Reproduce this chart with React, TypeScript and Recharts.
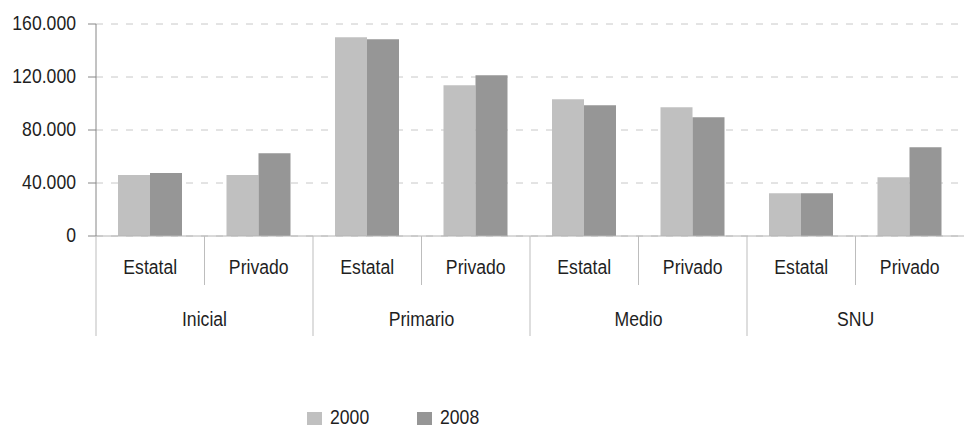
import React from 'react';
import { BarChart, Bar, XAxis, YAxis, CartesianGrid, Legend } from 'recharts';

const groups = ['Inicial', 'Inicial', 'Primario', 'Primario', 'Medio', 'Medio', 'SNU', 'SNU'];
const sectors = ['Estatal', 'Privado', 'Estatal', 'Privado', 'Estatal', 'Privado', 'Estatal', 'Privado'];
const values2000 = [46000, 46000, 150000, 113700, 103200, 97100, 32200, 44300];
const values2008 = [47500, 62500, 148400, 121300, 98600, 89600, 32200, 66900];
const yTicks = [0, 40000, 80000, 120000, 160000];
const seriesNames = ['2000', '2008'];
const seriesColors = ['#c0c0c0', '#969696'];

const data = sectors.map((s, i) => ({
  key: `${groups[i]}-${s}-${i}`,
  sector: s,
  group: groups[i],
  y2000: values2000[i],
  y2008: values2008[i],
}));

const FONT = "'Liberation Sans', Arial, sans-serif";
const FS = 21;
const SX = 0.84;
const TXT = '#1f1f1f';
const CHART_W = 969;
const CHART_H = 428;
const MARGIN = { top: 24, right: 5, left: 0, bottom: 0 };
const Y_W = 96;

const fmt = (v: number) => String(v).replace(/\B(?=(\d{3})+(?!\d))/g, '.');

const NarrowText = ({ x, y, anchor, children }: any) => (
  <g transform={`translate(${x},${y})`}>
    <text transform={`scale(${SX},1)`} x={0} y={0} textAnchor={anchor} fontFamily={FONT} fontSize={FS} fill={TXT}>
      {children}
    </text>
  </g>
);

const XTick = (props: any) => {
  const { x, y, payload } = props;
  const idx: number = payload.index;
  const half = payload.offset ?? (CHART_W - Y_W - MARGIN.right) / data.length / 2;
  const row = data[idx];
  const isGroupStart = idx === 0 || data[idx - 1].group !== row.group;
  const lineLen = isGroupStart ? 100 : 49;
  let groupLabel = null;
  if (isGroupStart) {
    let n = 1;
    while (idx + n < data.length && data[idx + n].group === row.group) n++;
    const cx = x - half + n * half;
    groupLabel = (
      <NarrowText x={cx} y={y + 90} anchor="middle">
        {row.group}
      </NarrowText>
    );
  }
  return (
    <g>
      <line x1={x - half} x2={x - half} y1={y} y2={y + lineLen} stroke="#bdbdbd" strokeWidth={1} />
      <NarrowText x={x} y={y + 38} anchor="middle">
        {row.sector}
      </NarrowText>
      {groupLabel}
    </g>
  );
};

const YTick = (props: any) => {
  const { x, y, payload } = props;
  return (
    <NarrowText x={x} y={y + 5.5} anchor="end">
      {fmt(payload.value)}
    </NarrowText>
  );
};

const LegendContent = (props: any) => {
  const items = props.payload || [];
  return (
    <svg width={200} height={20} style={{ display: 'block', overflow: 'visible' }}>
      {items.map((it: any, i: number) => (
        <g key={i} transform={`translate(${i * 110},0)`}>
          <rect x={0} y={6} width={15} height={13} fill={it.color} />
          <NarrowText x={23} y={18} anchor="start">
            {it.value}
          </NarrowText>
        </g>
      ))}
    </svg>
  );
};

export default function App() {
  return (
    <div style={{ position: 'absolute', left: 0, top: 0, width: CHART_W, height: CHART_H, background: '#fff' }}>
      <BarChart width={CHART_W} height={CHART_H} data={data} margin={MARGIN} barGap={0} barCategoryGap={22}>
        <CartesianGrid horizontal vertical={false} stroke="#c8c8c8" strokeDasharray="7 8" />
        <XAxis
          dataKey="key"
          height={CHART_H - 236 - MARGIN.bottom}
          axisLine={{ stroke: '#b4b4b4' }}
          tickLine={false}
          tickSize={0}
          tickMargin={0}
          interval={0}
          tick={<XTick />}
        />
        <YAxis
          width={Y_W}
          domain={[0, 160000]}
          ticks={yTicks}
          interval={0}
          axisLine={{ stroke: '#868686' }}
          tickLine={{ stroke: '#868686' }}
          tickSize={8}
          tickMargin={12}
          tick={<YTick />}
        />
        <Bar dataKey="y2000" name={seriesNames[0]} fill={seriesColors[0]} isAnimationActive={false} />
        <Bar dataKey="y2008" name={seriesNames[1]} fill={seriesColors[1]} isAnimationActive={false} />
        <Legend
          layout="horizontal"
          verticalAlign="middle"
          align="center"
          content={<LegendContent />}
          wrapperStyle={{ top: 406, left: 307, width: 'auto' }}
        />
      </BarChart>
    </div>
  );
}
